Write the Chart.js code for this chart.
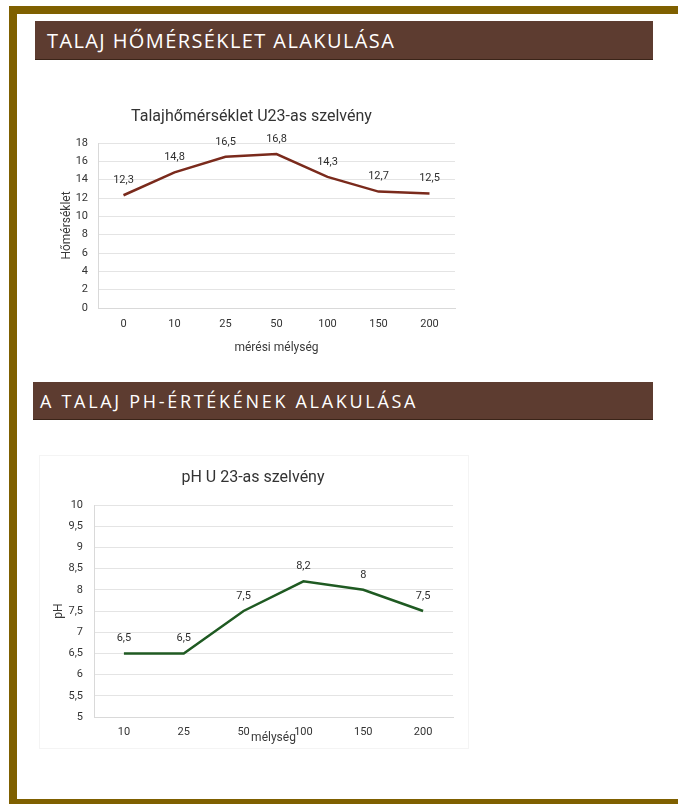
<!DOCTYPE html>
<html>
<head>
<meta charset="utf-8">
<script src="https://cdn.jsdelivr.net/npm/chart.js@4.4.1/dist/chart.umd.min.js"></script>
<style>
  html, body { margin: 0; padding: 0; background: #fff; }
  body { width: 678px; height: 804px; position: relative; overflow: hidden; }
  .bt { position: absolute; left: 9px; top: 6px; width: 669px; height: 8px; background: #7f6000; }
  .bl { position: absolute; left: 9px; top: 6px; width: 8px; height: 798px; background: #7f6000; }
  .bb { position: absolute; left: 9px; top: 799px; width: 669px; height: 5px; background: #7f6000; }
  .hdr { position: absolute; background: #5d3c30; color: #fff; font-family: "Open Sans", sans-serif;
         box-shadow: 0 1px 0 #3a2418; white-space: nowrap; }
  .h1 { left: 35px; top: 21px; width: 618px; height: 38px; font-size: 20px; line-height: 39px; letter-spacing: 1.4px; }
  .h1 span { position: absolute; left: 12px; }
  .h2 { left: 33px; top: 382px; width: 620px; height: 37px; font-size: 18px; line-height: 38px; letter-spacing: 2.7px; }
  .h2 span { position: absolute; left: 7px; }
  .frame { position: absolute; left: 39px; top: 455px; width: 428px; height: 292px; border: 1px solid #f4f4f4; }
  canvas { position: absolute; }
</style>
</head>
<body>
<div class="bt"></div>
<div class="bl"></div>
<div class="bb"></div>
<div class="hdr h1"><span>TALAJ HŐMÉRSÉKLET ALAKULÁSA</span></div>
<div class="hdr h2"><span>A TALAJ PH-ÉRTÉKÉNEK ALAKULÁSA</span></div>
<div class="frame"></div>
<canvas id="c1" width="422" height="280" style="left:48px;top:90px"></canvas>
<canvas id="c2" width="427" height="330" style="left:53px;top:450px"></canvas>
<script>
// ---- data ----
const tempTitle = 'Talajhőmérséklet U23-as szelvény';
const tempDepths = ['0', '10', '25', '50', '100', '150', '200'];
const tempValues = [12.3, 14.8, 16.5, 16.8, 14.3, 12.7, 12.5];
const tempAxisX = 'mérési mélység';
const tempAxisY = 'Hőmérséklet';

const phTitle = 'pH U 23-as szelvény';
const phDepths = ['10', '25', '50', '100', '150', '200'];
const phValues = [6.5, 6.5, 7.5, 8.2, 8, 7.5];
const phAxisX = 'mélység';
const phAxisY = 'pH';

const FONT = 'Roboto, "Liberation Sans", sans-serif';
const fmt = v => String(v).replace('.', ',');

const dataLabels = {
  id: 'dataLabels',
  afterDatasetsDraw(chart) {
    const ctx = chart.ctx;
    const ds = chart.data.datasets[0];
    const meta = chart.getDatasetMeta(0);
    ctx.save();
    ctx.font = '11px ' + FONT;
    ctx.fillStyle = '#2e2e2e';
    ctx.textAlign = 'center';
    ctx.textBaseline = 'middle';
    meta.data.forEach((pt, i) => {
      ctx.fillText(fmt(ds.data[i]), pt.x, pt.y - 15);
    });
    ctx.restore();
  }
};

function makeChart(id, cfg) {
  return new Chart(document.getElementById(id), {
    type: 'line',
    data: {
      labels: cfg.labels,
      datasets: [{
        data: cfg.values,
        borderColor: cfg.color,
        borderWidth: 2.5,
        pointRadius: 0,
        tension: 0,
        fill: false
      }]
    },
    options: {
      responsive: false,
      animation: false,
      layout: { padding: { left: 0, right: cfg.padRight, top: 0, bottom: 0 } },
      plugins: {
        legend: { display: false },
        tooltip: { enabled: false },
        title: {
          display: true,
          text: cfg.title,
          color: '#333333',
          font: { family: FONT, size: 16, weight: 'normal' },
          padding: { top: cfg.titleTop, bottom: cfg.titleBottom }
        }
      },
      scales: {
        x: {
          offset: true,
          grid: { display: false, drawTicks: false },
          border: { display: true, color: '#d9d9d9', width: 1 },
          ticks: { color: '#333333', font: { family: FONT, size: 11 }, padding: cfg.xTickPad, maxRotation: 0 },
          title: { display: true, text: cfg.xTitle, color: '#3a3a3a', font: { family: FONT, size: 12 },
                   padding: { top: 0, bottom: cfg.xTitleBottom } },
          afterFit(s) { s.height = cfg.xHeight; }
        },
        y: {
          min: cfg.min, max: cfg.max,
          grid: { color: '#e4e4e4', lineWidth: 1, drawTicks: false },
          border: { display: true, color: '#d9d9d9', width: 1 },
          ticks: { stepSize: cfg.step, color: '#333333', font: { family: FONT, size: 11 }, padding: cfg.yTickPad,
                   callback: v => fmt(v) },
          title: { display: true, text: cfg.yTitle, color: '#3a3a3a', font: { family: FONT, size: 12, lineHeight: 1 },
                   padding: { top: cfg.yTitleTop, bottom: 0 } },
          afterFit(s) { s.width = cfg.yWidth; }
        }
      }
    },
    plugins: [dataLabels]
  });
}

makeChart('c1', {
  labels: tempDepths, values: tempValues, color: '#7a2a1c',
  title: tempTitle, xTitle: tempAxisX, yTitle: tempAxisY,
  min: 0, max: 18, step: 2,
  padRight: 15, titleTop: 17.4, titleBottom: 16.4,
  xHeight: 62, xTickPad: 10, xTitleBottom: 15,
  yWidth: 50, yTickPad: 10, yTitleTop: 13
});

makeChart('c2', {
  labels: phDepths, values: phValues, color: '#1f5a22',
  title: phTitle, xTitle: phAxisX, yTitle: phAxisY,
  min: 5, max: 10, step: 0.5,
  padRight: 27, titleTop: 18.4, titleBottom: 17.4,
  xHeight: 63, xTickPad: 9, xTitleBottom: 35,
  yWidth: 41, yTickPad: 11, yTitleTop: 0
});
</script>
</body>
</html>
